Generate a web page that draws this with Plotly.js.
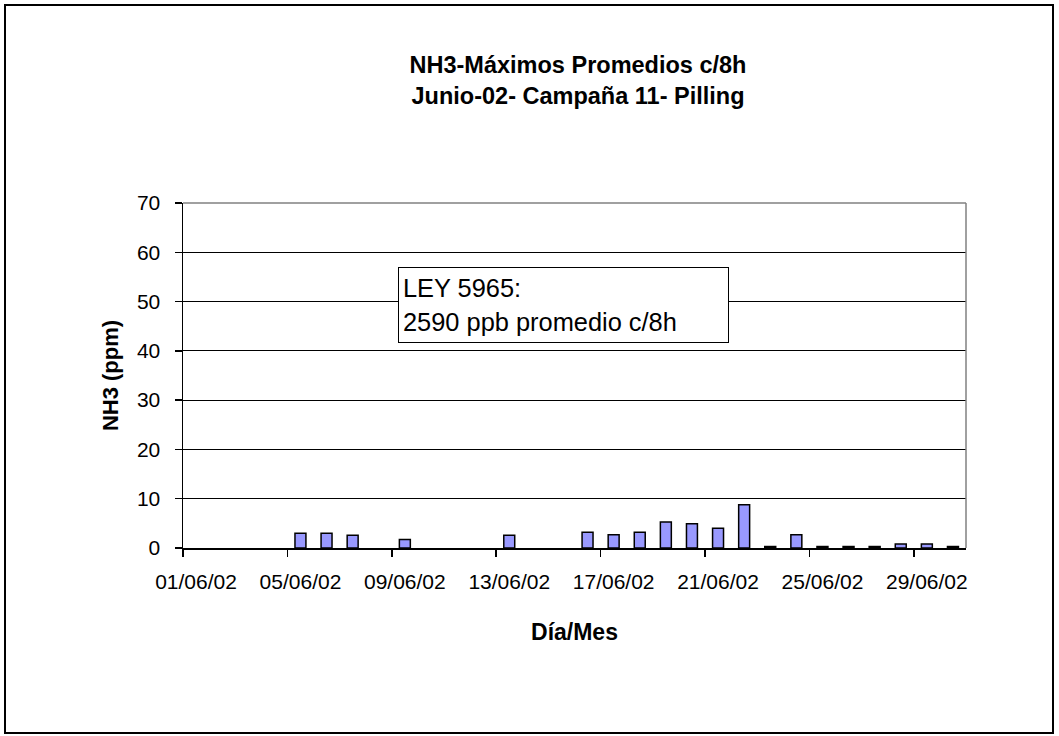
<!DOCTYPE html>
<html>
<head>
<meta charset="utf-8">
<script src="https://cdn.plot.ly/plotly-3.0.1.min.js"></script>
<style>
  html, body { margin: 0; padding: 0; background: #fff; }
  #chart { width: 1059px; height: 736px; }
</style>
</head>
<body>
<div id="chart"></div>
<script>
// ---- data ----
const days = [
  "01/06/02","02/06/02","03/06/02","04/06/02","05/06/02","06/06/02","07/06/02","08/06/02","09/06/02","10/06/02",
  "11/06/02","12/06/02","13/06/02","14/06/02","15/06/02","16/06/02","17/06/02","18/06/02","19/06/02","20/06/02",
  "21/06/02","22/06/02","23/06/02","24/06/02","25/06/02","26/06/02","27/06/02","28/06/02","29/06/02","30/06/02"
];
const nh3ppm = [
  null, null, null, null, 3.0, 3.0, 2.6, null, 1.7, null,
  null, null, 2.6, null, null, 3.2, 2.7, 3.2, 5.3, 4.9,
  4.0, 8.8, 0.3, 2.7, 0.3, 0.3, 0.3, 0.8, 0.8, 0.3
];
const yTicks = [0, 10, 20, 30, 40, 50, 60, 70];
const chartTitle = "NH3-Máximos Promedios c/8h<br>Junio-02- Campaña 11- Pilling";
const xTitle = "Día/Mes";
const yTitle = "NH3 (ppm)";
const noteText = "LEY 5965:<br>2590 ppb promedio c/8h";

const FONT = "Liberation Sans, Arial, sans-serif";

const trace = {
  type: "bar",
  x: days,
  y: nh3ppm,
  width: 0.42,
  marker: { color: "#9999FF", line: { color: "#000000", width: 1.5 } },
  hoverinfo: "x+y"
};

const layout = {
  width: 1059,
  height: 736,
  paper_bgcolor: "#ffffff",
  plot_bgcolor: "#ffffff",
  margin: { l: 183, r: 93, t: 203, b: 188, pad: 0 },
  showlegend: false,
  font: { family: FONT, color: "#000000" },
  title: {
    text: chartTitle,
    font: { family: FONT, size: 23.5, weight: "bold", color: "#000" },
    xref: "container", yref: "container",
    x: 578 / 1059, xanchor: "center",
    y: 1 - 73 / 736, yanchor: "middle"
  },
  xaxis: {
    type: "category",
    range: [-0.5, 29.5],
    tickmode: "linear", tick0: 0, dtick: 4,
    tickson: "boundaries",
    tickangle: 0,
    ticks: "outside", ticklen: 7, tickwidth: 1.5, tickcolor: "#000",
    showline: true, linecolor: "#000", linewidth: 1.5,
    showgrid: false, zeroline: false,
    tickfont: { family: FONT, size: 21, color: "#000" },
    ticklabelstandoff: 14,
    title: { text: xTitle, font: { family: FONT, size: 23, weight: "bold", color: "#000" }, standoff: 32 },
    fixedrange: true
  },
  yaxis: {
    range: [0, 70],
    tickvals: yTicks,
    ticks: "outside", ticklen: 7, tickwidth: 1.5, tickcolor: "#000",
    showline: true, linecolor: "#000", linewidth: 1.5,
    showgrid: true, gridcolor: "#000", gridwidth: 1.2,
    zeroline: false,
    tickfont: { family: FONT, size: 21, color: "#000" },
    ticklabelstandoff: 10,
    title: { text: yTitle, font: { family: FONT, size: 22, weight: "bold", color: "#000" }, standoff: 12 },
    fixedrange: true
  },
  shapes: [
    // plot area border (top & right) in grey
    { type: "line", xref: "paper", yref: "paper", x0: 0, x1: 1, y0: 1, y1: 1, line: { color: "#808080", width: 1.5 }, layer: "above" },
    { type: "line", xref: "paper", yref: "paper", x0: 1, x1: 1, y0: 0, y1: 1, line: { color: "#808080", width: 1.5 }, layer: "above" },
    // outer chart frame
    { type: "rect", xref: "paper", yref: "paper",
      x0: (5 - 183) / 783, x1: (1053 - 183) / 783,
      y0: (548 - 733) / 345, y1: (548 - 5) / 345,
      line: { color: "#000", width: 2 }, layer: "above" }
  ],
  annotations: [
    {
      text: noteText,
      xref: "paper", yref: "paper",
      x: (398 - 183) / 783, y: (548 - 267) / 345,
      xanchor: "left", yanchor: "top",
      align: "left", valign: "middle",
      width: 321, height: 66,
      showarrow: false,
      bgcolor: "#ffffff", bordercolor: "#000", borderwidth: 1, borderpad: 4,
      font: { family: FONT, size: 25.4, color: "#000" }
    }
  ]
};

Plotly.newPlot("chart", [trace], layout, { displayModeBar: false, staticPlot: true });
</script>
</body>
</html>
